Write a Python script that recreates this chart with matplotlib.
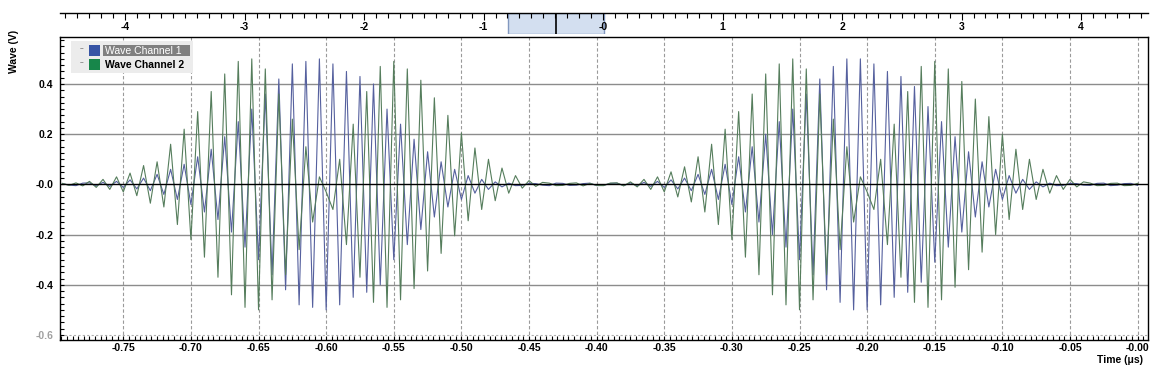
import numpy as np
import matplotlib.pyplot as plt
from matplotlib.patches import Rectangle
from matplotlib.ticker import FixedLocator, MultipleLocator

plt.rcParams['font.family'] = ['Liberation Sans', 'DejaVu Sans']
plt.rcParams['font.weight'] = 'bold'

W, H = 1153, 374

# scope trace time base (us): one extreme every half period, starting here
t_first = -0.795
half_period = 0.005

# signed amplitude of each 0.01 us cycle (V)
ch1_amp = [0.003, -0.005, 0.006, 0.008, 0.012, 0.018, 0.025, 0.04, 0.06, 0.08,
           0.11, 0.14, 0.19, 0.25, 0.30, 0.36, 0.42, 0.48, 0.49, 0.50,
           0.48, 0.45, 0.43, 0.40, 0.30, 0.24, 0.18, 0.13, 0.09, 0.06,
           0.035, 0.02, 0.01, 0.005, -0.004, 0.003, -0.005, 0.004, -0.003, 0.005,
           -0.004, 0.005, 0.006, 0.008, 0.012, 0.018, 0.025, 0.04, 0.06, 0.08,
           0.11, 0.15, 0.20, 0.25, 0.30, 0.36, 0.42, 0.47, 0.50, 0.50,
           0.48, 0.45, 0.43, 0.39, 0.31, 0.25, 0.19, 0.13, 0.09, 0.06,
           0.035, 0.02, 0.01, 0.005, -0.004, 0.003, -0.004, 0.005, -0.003, 0.004]
ch2_amp = [0.004, 0.006, 0.012, 0.02, 0.03, 0.045, 0.075, 0.09, 0.16, 0.22,
           0.29, 0.37, 0.44, 0.49, 0.50, 0.46, 0.36, 0.26, 0.15, 0.03,
           -0.10, -0.24, -0.37, -0.47, -0.49, -0.46, -0.415, -0.345, -0.275, -0.205,
           -0.145, -0.10, -0.065, -0.035, -0.015, -0.008, 0.005, -0.004, 0.006, 0.004,
           -0.005, 0.006, 0.01, 0.02, 0.03, 0.05, 0.07, 0.11, 0.16, 0.22,
           0.29, 0.36, 0.44, 0.48, 0.50, 0.46, 0.36, 0.26, 0.15, 0.03,
           -0.10, -0.24, -0.37, -0.47, -0.49, -0.46, -0.41, -0.34, -0.27, -0.20,
           -0.14, -0.10, -0.06, -0.035, -0.02, -0.01, 0.005, -0.004, 0.005, -0.004]

series_names = ['Wave Channel 1', 'Wave Channel 2']
series_colors = ['#55609e', '#557d5c']
legend_colors = ['#3754a5', '#17864a']

x_ticks = [-0.75, -0.70, -0.65, -0.60, -0.55, -0.50, -0.45, -0.40,
           -0.35, -0.30, -0.25, -0.20, -0.15, -0.10, -0.05, 0.0]
x_tick_labels = ['-0.75', '-0.70', '-0.65', '-0.60', '-0.55', '-0.50', '-0.45', '-0.40',
                 '-0.35', '-0.30', '-0.25', '-0.20', '-0.15', '-0.10', '-0.05', '-0.00']
y_ticks = [0.4, 0.2, 0.0, -0.2, -0.4, -0.6]
y_tick_labels = ['0.4', '0.2', '-0.0', '-0.2', '-0.4', '-0.6']

overview_ticks = [-4, -3, -2, -1, 0, 1, 2, 3, 4]
overview_labels = ['-4', '-3', '-2', '-1', '-0', '1', '2', '3', '4']
overview_range = (-4.545, 4.556)

view_start, view_end = -0.7968, 0.0073
y_range = (-0.620, 0.586)


def trace(amp):
    a = np.asarray(amp)
    v = np.column_stack([a, -a]).ravel()
    t = t_first + half_period * np.arange(len(v))
    return t, v


def fx(x):
    return x / W


def fy(y):
    return 1 - y / H


fig = plt.figure(figsize=(W / 100, H / 100), dpi=100)

# main plot
ax = fig.add_axes([fx(60), fy(340), (1147.5 - 60) / W, (340 - 37.3) / H])
ax.set_xlim(view_start, view_end)
ax.set_ylim(*y_range)

for xv in x_ticks:
    ax.axvline(xv, color='#9a9a9a', lw=0.8, ls=(0, (3, 2)), zorder=1)
for yv in y_ticks:
    if yv == 0.0:
        continue
    if yv == -0.6:
        ax.axhline(yv, color='#b0b0b0', lw=0.8, ls=(0, (2, 2)), zorder=1)
    else:
        ax.axhline(yv, color='#8c8c8c', lw=1.0, zorder=1)

for amp, col in zip([ch1_amp, ch2_amp], series_colors):
    t, v = trace(amp)
    ax.plot(t, v, color=col, lw=0.8, zorder=2)

ax.axhline(0.0, color='black', lw=1.0, zorder=3)

ax.xaxis.set_major_locator(FixedLocator(x_ticks))
ax.set_xticklabels(x_tick_labels)
ax.xaxis.set_minor_locator(MultipleLocator(0.05 / 12))
ax.yaxis.set_major_locator(FixedLocator(y_ticks))
ax.set_yticklabels(y_tick_labels)
ax.yaxis.set_minor_locator(MultipleLocator(0.025))
ax.tick_params(which='both', direction='in', length=3, width=0.8, color='black')
ax.tick_params(axis='x', which='both', top=False, labelsize=7.5, pad=2.5)
ax.tick_params(axis='y', which='both', right=False, labelsize=7.5, pad=5)
ax.get_yticklabels()[-1].set_color('#a0a0a0')
for s in ax.spines.values():
    s.set_linewidth(1.0)

fig.text(fx(14.3), fy(51), 'Wave (V)', rotation=90, ha='center', va='center', fontsize=7.5)
fig.text(fx(1143), fy(360), 'Time (\u03bcs)', ha='right', va='center', fontsize=7.5)

# overview strip on top
axo = fig.add_axes([fx(60), fy(34.3), (1147.5 - 60) / W, 21 / H])
axo.set_xlim(*overview_range)
axo.set_ylim(0, 1)
for side in ['left', 'right', 'bottom']:
    axo.spines[side].set_visible(False)
axo.spines['top'].set_linewidth(1.0)
axo.patch.set_alpha(0)
axo.set_yticks([])
axo.xaxis.set_ticks_position('top')
axo.xaxis.set_major_locator(FixedLocator(overview_ticks))
axo.xaxis.set_minor_locator(MultipleLocator(0.1))
axo.tick_params(axis='x', which='major', direction='in', length=5, width=0.8, labeltop=False, labelbottom=False)
axo.tick_params(axis='x', which='minor', direction='in', length=3.3, width=0.8)
axo.axvspan(view_start, view_end, ymin=0, ymax=1, facecolor='#d3dff0', edgecolor='#8298bf', lw=1.0, zorder=1)
axo.axvline((view_start + view_end) / 2, color='black', lw=1.2, zorder=2)
for tv, lab in zip(overview_ticks, overview_labels):
    axo.text(tv, 0.36, lab, ha='center', va='center', fontsize=7.5, zorder=3)

# legend panel
def rect(x0, y0, x1, y1, color):
    fig.add_artist(Rectangle((fx(x0), fy(y1)), (x1 - x0) / W, (y1 - y0) / H,
                             transform=fig.transFigure, facecolor=color, edgecolor='none'))


rect(71, 41, 193, 72.7, '#ececec')
rect(102.7, 45.3, 190, 55.8, '#808080')
for i, (name, col) in enumerate(zip(series_names, legend_colors)):
    y0 = 45 + i * 14
    rect(89, y0, 100, y0 + 11, col)
    fig.text(fx(80), fy(y0 + 4), '--', fontsize=5, color='#808080', va='center')
    fig.text(fx(105), fy(y0 + 5.5), name, fontsize=7.5, va='center',
             color='white' if i == 0 else 'black',
             fontweight='normal' if i == 0 else 'bold')

fig.savefig('out.png', dpi=100)
